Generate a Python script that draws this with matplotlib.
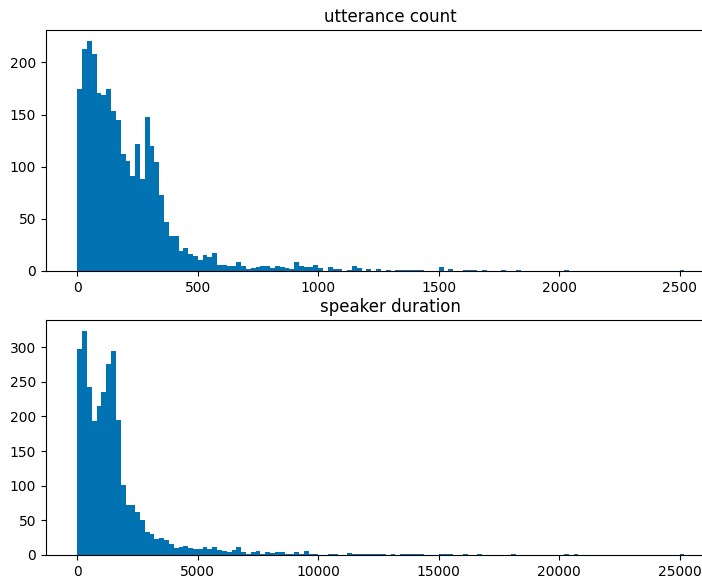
import numpy as np
import matplotlib
matplotlib.use('Agg')
import matplotlib.pyplot as plt

# histogram counts, 130 equal bins each
n_bins = 130
utt_range = (0, 2600)
dur_range = (0, 26000)

utt_counts = [
    174, 213, 220, 208, 171, 169, 174, 153, 145, 112,
    105, 91, 122, 88, 148, 120, 104, 73, 47, 34,
    34, 19, 22, 16, 14, 11, 15, 13, 17, 6,
    6, 5, 5, 9, 5, 2, 3, 4, 5, 5,
    3, 5, 4, 3, 2, 9, 5, 4, 4, 6,
    3, 0, 4, 2, 2, 0, 1, 5, 3, 0,
    2, 0, 2, 0, 1, 0, 1, 1, 1, 1,
    1, 1, 0, 0, 0, 4, 0, 2, 0, 0,
    1, 1, 1, 0, 1, 0, 0, 0, 1, 0,
    0, 1, 0, 0, 0, 0, 0, 0, 0, 0,
    0, 1, 0, 0, 0, 0, 0, 0, 0, 0,
    0, 0, 0, 0, 0, 0, 0, 0, 0, 0,
    0, 0, 0, 0, 0, 1, 0, 0, 0, 0,
]

dur_counts = [
    297, 323, 243, 193, 215, 235, 275, 294, 195, 101,
    72, 72, 62, 50, 33, 30, 23, 24, 21, 16,
    10, 12, 13, 10, 9, 8, 11, 8, 12, 7,
    6, 5, 7, 11, 4, 2, 4, 6, 2, 4,
    3, 5, 5, 2, 1, 5, 2, 6, 2, 1,
    0, 0, 2, 2, 0, 0, 3, 2, 2, 2,
    2, 1, 1, 1, 0, 1, 0, 1, 2, 2,
    1, 2, 0, 0, 0, 2, 2, 1, 0, 0,
    1, 0, 0, 1, 0, 0, 0, 0, 0, 0,
    1, 0, 0, 0, 0, 0, 0, 0, 0, 0,
    0, 1, 0, 1, 0, 0, 0, 0, 0, 0,
    0, 0, 0, 0, 0, 0, 0, 0, 0, 0,
    0, 0, 0, 0, 0, 1, 0, 0, 0, 0,
]

bar_color = '#0173b2'

W, H = 702, 579
fig = plt.figure(figsize=(W / 100, H / 100), dpi=100)

# the original figure is cut off on the right, so the axes run past the edge
ax1 = fig.add_axes([46 / W, (H - 271) / H, 689 / W, 241 / H])
ax2 = fig.add_axes([46 / W, (H - 555) / H, 689 / W, 235 / H])

# stepfilled avoids the thin white seams between neighbouring bars
utt_edges = np.linspace(utt_range[0], utt_range[1], n_bins + 1)
ax1.hist(utt_edges[:-1], bins=utt_edges, weights=utt_counts,
         histtype='stepfilled', color=bar_color)
ax1.set_title('utterance count')

dur_edges = np.linspace(dur_range[0], dur_range[1], n_bins + 1)
ax2.hist(dur_edges[:-1], bins=dur_edges, weights=dur_counts,
         histtype='stepfilled', color=bar_color)
ax2.set_title('speaker duration')

fig.savefig('out.png', dpi=100)
